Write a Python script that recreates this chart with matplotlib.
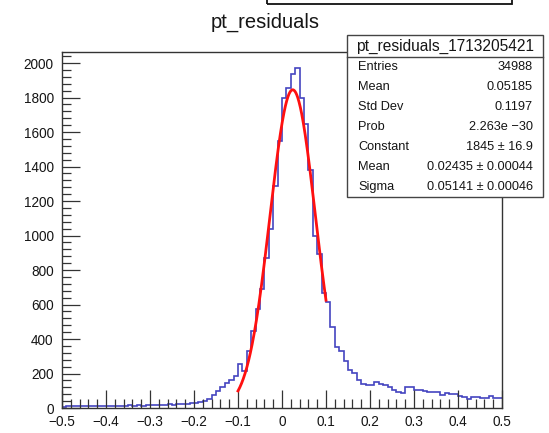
import numpy as np
import matplotlib
matplotlib.use("Agg")
import matplotlib.pyplot as plt
from matplotlib.patches import Rectangle
from matplotlib.lines import Line2D

plt.rcParams['font.family'] = ['Liberation Sans', 'DejaVu Sans']

# histogram: 100 bins from -0.5 to 0.5
x_lo, x_hi, n_bins = -0.5, 0.5, 100
left_tail = [8, 10, 9, 11, 10, 12, 9, 11, 13, 10,
             12, 11, 14, 12, 13, 15, 13, 16, 14, 17,
             15, 18, 20, 17, 21, 19, 23, 22, 26, 28]
core = [30, 32, 42, 50, 75, 100, 120, 145, 165, 185,
        255, 215, 330, 445, 575, 690, 870, 1040, 1285, 1550,
        1795, 1855, 1935, 1972, 1796, 1645, 1380, 995, 890, 665,
        615, 472, 352, 332, 274, 220]
right_tail = [205, 165, 140, 133, 133, 153, 139, 135, 124, 104,
              92, 88, 124, 122, 105, 102, 96, 95, 94, 90,
              75, 86, 84, 80, 70, 66, 50, 66, 64, 58,
              60, 70, 60, 56]
counts = np.array(left_tail + core + right_tail, dtype=float)

# gaussian fit parameters (from the stats box)
fit_const, fit_mean, fit_sigma = 1845.0, 0.02435, 0.05141
fit_range = (-0.1, 0.1)

stats_title = "pt_residuals_1713205421"
stats_rows = [("Entries", "34988"),
              ("Mean", "0.05185"),
              ("Std Dev", "0.1197"),
              ("Prob", "2.263e \u221230"),
              ("Constant", "1845 \u00b1 16.9"),
              ("Mean", "0.02435 \u00b1 0.00044"),
              ("Sigma", "0.05141 \u00b1 0.00046")]

W, H = 549, 433
txt = '#151515'
fig = plt.figure(figsize=(W / 100, H / 100), dpi=100)
ax = fig.add_axes([62 / W, 1 - 408 / H, 440 / W, 356 / H])

edges = np.linspace(x_lo, x_hi, n_bins + 1)
ax.stairs(counts, edges, baseline=None, color='#4444c0', lw=1.2)

xf = np.linspace(fit_range[0], fit_range[1], 200)
yf = fit_const * np.exp(-0.5 * ((xf - fit_mean) / fit_sigma) ** 2)
ax.plot(xf, yf, color='#ff1010', lw=2)

ax.set_xlim(x_lo, x_hi)
ax.set_ylim(0, 2064)
ax.set_xticks(np.arange(-0.5, 0.51, 0.1))
ax.set_xticklabels(['\u22120.5', '\u22120.4', '\u22120.3', '\u22120.2', '\u22120.1',
                    '0', '0.1', '0.2', '0.3', '0.4', '0.5'])
ax.set_xticks(np.arange(-0.5, 0.501, 0.02), minor=True)
ax.set_yticks(np.arange(0, 2001, 200))
ax.set_yticks(np.arange(0, 2041, 40), minor=True)
ax.tick_params(which='both', direction='in', top=False, right=False,
               color='#333333', width=0.9, labelsize=9.8, labelcolor=txt)
ax.tick_params(which='major', length=13)
ax.tick_params(which='minor', length=6.5)
ax.tick_params(axis='x', pad=5)
ax.tick_params(axis='y', pad=6)
for sp in ax.spines.values():
    sp.set_color('#333333')
    sp.set_linewidth(1.0)

fig.text(265 / W, 1 - 22 / H, "pt_residuals", ha='center', va='center',
         fontsize=14.5, color=txt)

# partially visible box at the very top
fig.patches.append(Rectangle((267 / W, 1 - 4 / H), 245 / W, 20 / H,
                             transform=fig.transFigure, fill=False,
                             ec='#111111', lw=1.3, clip_on=False))

# stats box
bx0, bx1 = 347 / W, 543 / W
by_top, by_bot = 1 - 35 / H, 1 - 197 / H
fig.patches.append(Rectangle((bx0, by_bot), bx1 - bx0, by_top - by_bot,
                             transform=fig.transFigure, fc='white',
                             ec='#444444', lw=1.0, zorder=5))
fig.lines.append(Line2D([bx0, bx1], [1 - 57 / H] * 2, transform=fig.transFigure,
                        color='#444444', lw=1.0, zorder=6))
fig.text((bx0 + bx1) / 2, 1 - 46 / H, stats_title, ha='center', va='center',
         fontsize=11.2, color=txt, zorder=7)
for i, (lab, val) in enumerate(stats_rows):
    yy = 1 - (67.5 + 20 * i) / H
    fig.text(358 / W, yy, lab, ha='left', va='center', fontsize=9.2,
             color=txt, zorder=7)
    fig.text(533 / W, yy, val, ha='right', va='center', fontsize=9.2,
             color=txt, zorder=7)

fig.savefig("out.png", dpi=100)
